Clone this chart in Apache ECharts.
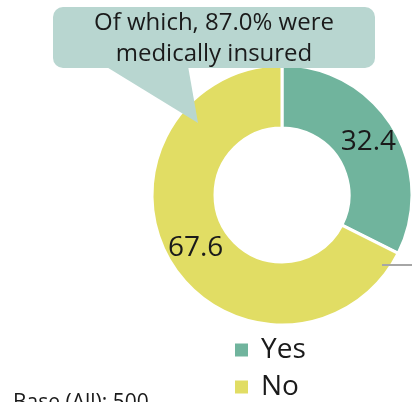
<!DOCTYPE html>
<html>
<head>
<meta charset="utf-8">
<script src="https://cdn.jsdelivr.net/npm/echarts@6/dist/echarts.min.js"></script>
<style>html,body{margin:0;padding:0;background:#fff;}#c{width:412px;height:402px;}</style>
</head>
<body>
<div id="c"></div>
<script>
const categories = ['Yes', 'No'];
const values = [32.4, 67.6];
const colors = ['#70b49d', '#e1dd64'];
const calloutLines = ['Of which, 87.0% were', 'medically insured'];
const baseNote = 'Base (All): 500';

const FONT = '"Open Sans", "Noto Sans", sans-serif';
const legendTops = [336, 373];
const chart = echarts.init(document.getElementById('c'));
chart.setOption({
  animation: false,
  color: colors,
  legend: categories.map((c, i) => ({
    orient: 'vertical',
    left: 233,
    top: legendTops[i],
    padding: 0,
    icon: 'rect',
    itemWidth: 15,
    itemHeight: 15,
    textStyle: { fontFamily: FONT, fontSize: 28, lineHeight: 28, color: '#1a1a1a', padding: [0, 0, 0, 7] },
    data: [c]
  })),
  series: [{
    type: 'pie',
    center: [282, 195],
    radius: [67, 130],
    startAngle: 90,
    clockwise: true,
    silent: true,
    itemStyle: { borderColor: '#fff', borderWidth: 3 },
    label: {
      show: true,
      position: 'inside',
      formatter: '{c}',
      fontFamily: FONT,
      fontSize: 28,
      color: '#1a1a1a'
    },
    labelLine: { show: false },
    data: categories.map((n, i) => ({ name: n, value: values[i] }))
  }],
  graphic: [
    {
      type: 'polygon',
      shape: { points: [[105, 66], [188, 66], [198, 123]] },
      style: { fill: '#b8d6d0' },
      z: 10
    },
    {
      type: 'rect',
      shape: { x: 53, y: 7, width: 322, height: 61, r: 10 },
      style: { fill: '#b8d6d0' },
      z: 10
    },
    {
      type: 'text',
      x: 214, y: 23,
      style: { text: calloutLines[0], fontFamily: FONT, fontSize: 24, fill: '#1a1a1a', align: 'center', verticalAlign: 'middle' },
      z: 11
    },
    {
      type: 'text',
      x: 214, y: 54,
      style: { text: calloutLines[1], fontFamily: FONT, fontSize: 24, fill: '#1a1a1a', align: 'center', verticalAlign: 'middle' },
      z: 11
    },
    {
      type: 'line',
      shape: { x1: 382, y1: 265, x2: 412, y2: 265 },
      style: { stroke: '#a6a6a6', lineWidth: 2 },
      z: 11
    },
    {
      type: 'text',
      left: 13, top: 393,
      style: { text: baseNote, fontFamily: FONT, fontSize: 21, fill: '#1a1a1a' }
    }
  ]
});
</script>
</body>
</html>
